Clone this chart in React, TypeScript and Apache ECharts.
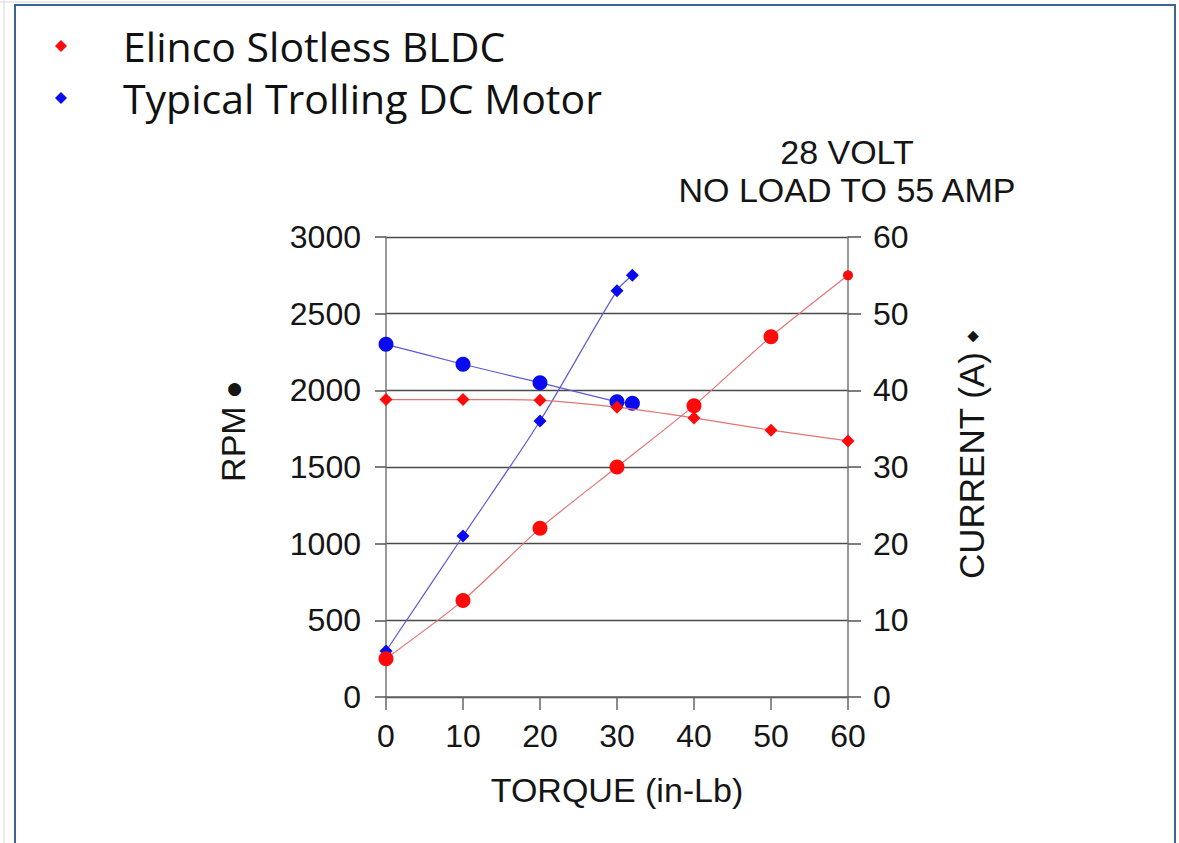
import React, { useEffect, useRef } from "react";
import * as echarts from "echarts";

const torque = [0, 10, 20, 30, 40, 50, 60];
const elincoRpm = [250, 630, 1100, 1500, 1900, 2350, 2750];
const elincoCurrent = [38.8, 38.8, 38.7, 37.8, 36.4, 34.8, 33.4];
const trollingTorque = [0, 10, 20, 30, 32];
const trollingRpm = [2300, 2170, 2050, 1925, 1915];
const trollingCurrent = [6, 21, 36, 53, 55];

const seriesNames = ["Elinco Slotless BLDC", "Typical Trolling DC Motor"];
const titleLines = ["28 VOLT", "NO LOAD TO 55 AMP"];

const RED = "#ff0a0a";
const RED_LINE = "#e47272";
const BLUE = "#0a0aee";
const BLUE_LINE = "#5a5ad6";
const ARIAL = "'Liberation Sans', Arial, sans-serif";

export default function App() {
  const ref = useRef<HTMLDivElement>(null);
  useEffect(() => {
    if (!ref.current) return;
    const chart = echarts.init(ref.current, null, { renderer: "svg" });
    const pair = (xs: number[], ys: number[]) => xs.map((x, i) => [x, ys[i]]);
    const tickLabel = {
      fontFamily: ARIAL,
      fontSize: 32,
      color: "#151515",
      formatter: (v: number) => String(v),
    };
    const nameStyle = { fontFamily: ARIAL, fontSize: 34, color: "#151515" };
    chart.setOption({
      animation: false,
      backgroundColor: "#ffffff",
      grid: { left: 386, right: 331, top: 237, bottom: 146 },
      legend: {
        orient: "vertical",
        left: 50,
        top: 19,
        itemWidth: 12,
        itemHeight: 12,
        itemGap: 8,
        selectedMode: false,
        data: [
          { name: seriesNames[0], icon: "diamond" },
          { name: seriesNames[1], icon: "diamond" },
        ],
        textStyle: {
          fontFamily: "'Open Sans', Lato, sans-serif",
          fontSize: 41,
          color: "#111111",
          lineHeight: 44,
          padding: [0, 0, 0, 51],
        },
      },
      xAxis: {
        type: "value",
        min: 0,
        max: 60,
        interval: 10,
        name: "TORQUE (in-Lb)",
        nameLocation: "middle",
        nameGap: 76,
        nameTextStyle: nameStyle,
        axisLine: { show: true, lineStyle: { color: "#666", width: 1.5 } },
        axisTick: { show: true, length: 13, lineStyle: { color: "#666", width: 1.5 } },
        axisLabel: { ...tickLabel, margin: 23 },
        splitLine: { show: false },
      },
      yAxis: [
        {
          type: "value",
          position: "left",
          min: 0,
          max: 3000,
          interval: 500,
          name: "RPM {d|●}",
          nameLocation: "middle",
          nameGap: 136,
          nameTextStyle: {
            ...nameStyle,
            padding: [0, 0, 0, 70],
            rich: { d: { fontFamily: "'DejaVu Sans', sans-serif", fontSize: 17, color: "#151515" } },
          },
          axisLine: { show: true, lineStyle: { color: "#777", width: 1.5 } },
          axisTick: { show: true, length: 11, lineStyle: { color: "#555", width: 1.5 } },
          axisLabel: { ...tickLabel, margin: 25 },
          splitLine: { show: true, lineStyle: { color: "#4a4a4a", width: 1.3 } },
        },
        {
          type: "value",
          position: "right",
          min: 0,
          max: 60,
          interval: 10,
          name: "CURRENT (A) {d|◆}",
          nameLocation: "middle",
          nameGap: 106,
          nameTextStyle: {
            ...nameStyle,
            fontSize: 35,
            padding: [0, 0, 0, 24],
            rich: { d: { fontFamily: "'DejaVu Sans', sans-serif", fontSize: 15, color: "#151515" } },
          },
          axisLine: { show: true, lineStyle: { color: "#777", width: 1.5 } },
          axisTick: { show: true, length: 13, lineStyle: { color: "#555", width: 1.5 } },
          axisLabel: { ...tickLabel, margin: 25 },
          splitLine: { show: false },
        },
      ],
      graphic: [
        {
          type: "rect",
          shape: { x: 15, y: 5, width: 1160, height: 860 },
          style: { fill: "none", stroke: "#3d6590", lineWidth: 2 },
          silent: true,
        },
        {
          type: "line",
          shape: { x1: 4, y1: 0, x2: 4, y2: 843 },
          style: { stroke: "#d8d8d8", lineWidth: 1 },
          silent: true,
        },
        {
          type: "line",
          shape: { x1: 0, y1: 2, x2: 400, y2: 2 },
          style: { stroke: "#d8d8d8", lineWidth: 1 },
          silent: true,
        },
        {
          type: "text",
          style: {
            x: 847,
            y: 152,
            text: titleLines[0],
            textAlign: "center",
            textVerticalAlign: "middle",
            fontFamily: ARIAL,
            fontSize: 34,
            fill: "#151515",
          },
        },
        {
          type: "text",
          style: {
            x: 847,
            y: 190,
            text: titleLines[1],
            textAlign: "center",
            textVerticalAlign: "middle",
            fontFamily: ARIAL,
            fontSize: 34,
            fill: "#151515",
          },
        },
      ],
      series: [
        {
          name: seriesNames[0],
          type: "line",
          yAxisIndex: 0,
          data: pair(torque, elincoRpm),
          symbol: "circle",
          symbolSize: (_v: any, p: any) => (p.dataIndex === 6 ? 10 : 15),
          smooth: 0.25,
          clip: false,
          itemStyle: { color: RED },
          lineStyle: { color: RED_LINE, width: 1.2 },
          z: 3,
        },
        {
          name: seriesNames[0],
          type: "line",
          yAxisIndex: 1,
          data: pair(torque, elincoCurrent),
          symbol: "diamond",
          symbolSize: 13,
          smooth: 0.25,
          clip: false,
          itemStyle: { color: RED },
          lineStyle: { color: RED_LINE, width: 1.2 },
          z: 3,
        },
        {
          name: seriesNames[1],
          type: "line",
          yAxisIndex: 0,
          data: pair(trollingTorque, trollingRpm),
          symbol: "circle",
          symbolSize: 15,
          smooth: 0.1,
          clip: false,
          itemStyle: { color: BLUE },
          lineStyle: { color: BLUE_LINE, width: 1.2 },
          z: 2,
        },
        {
          name: seriesNames[1],
          type: "line",
          yAxisIndex: 1,
          data: pair(trollingTorque, trollingCurrent),
          symbol: "diamond",
          symbolSize: 13,
          smooth: 0.3,
          clip: false,
          itemStyle: { color: BLUE },
          lineStyle: { color: BLUE_LINE, width: 1.2 },
          z: 2,
        },
      ],
    });
    return () => chart.dispose();
  }, []);
  return (
    <div
      ref={ref}
      style={{ position: "absolute", left: 0, top: 0, width: 1179, height: 843 }}
    />
  );
}
